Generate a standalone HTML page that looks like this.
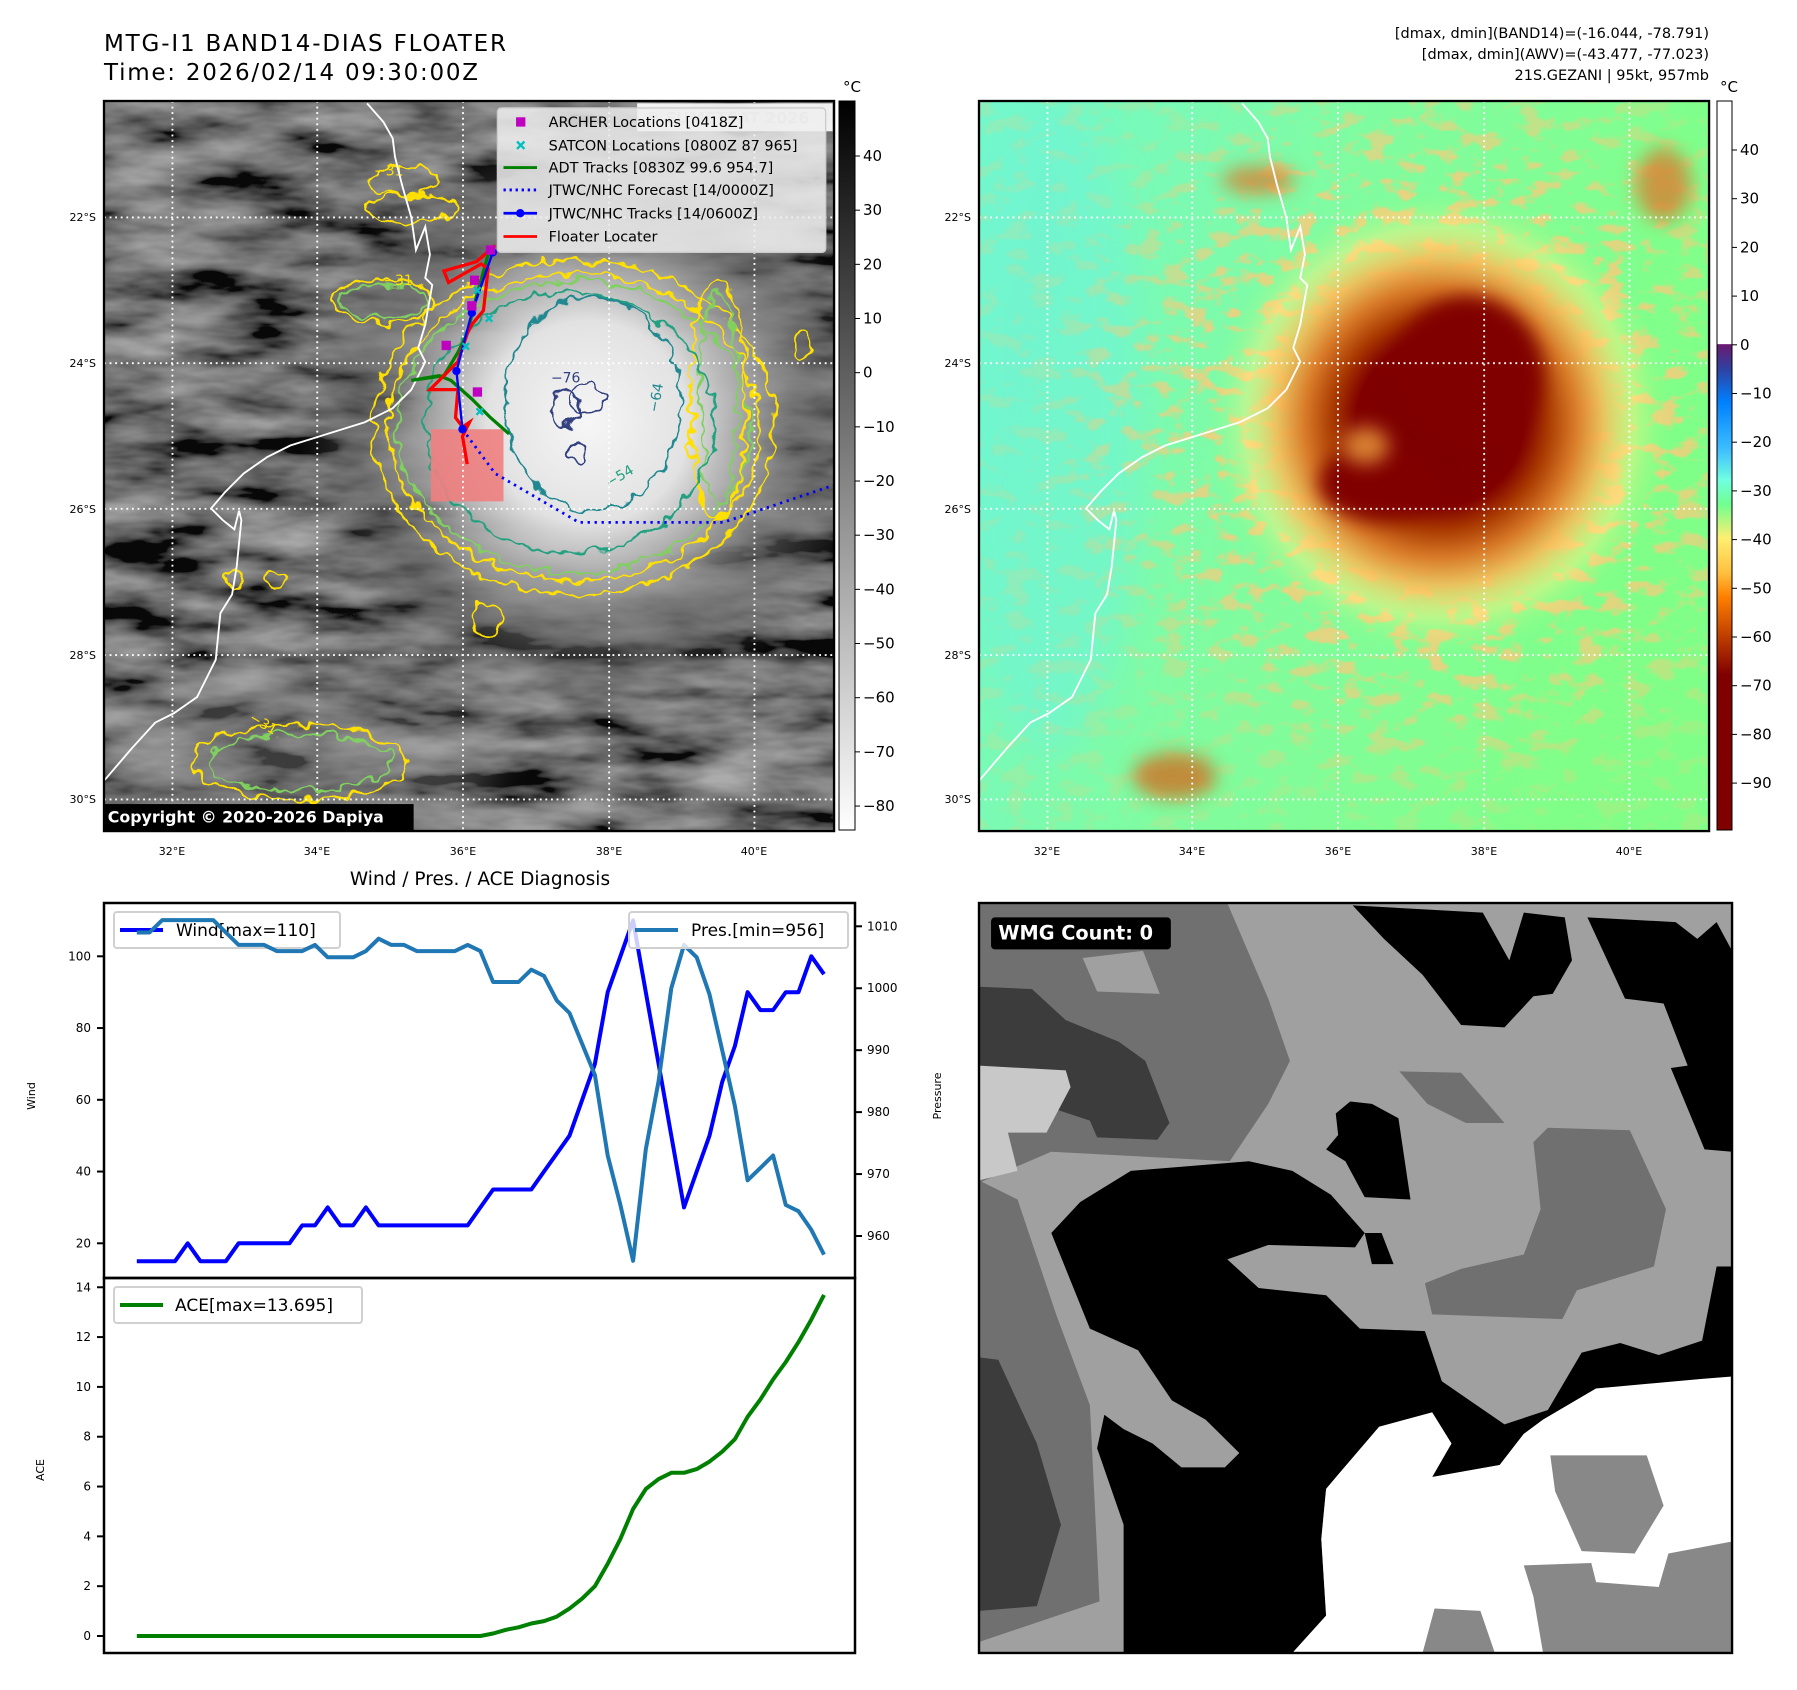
<!DOCTYPE html>
<html><head><meta charset="utf-8"><style>
html,body{margin:0;padding:0;background:#fff;}
svg{display:block;font-family:"DejaVu Sans","Liberation Sans",sans-serif;}
</style></head><body>
<svg id="root" width="1797" height="1690" viewBox="0 0 1797 1690" xmlns="http://www.w3.org/2000/svg">
<defs>
  <filter id="clouds" x="0" y="0" width="1568" height="1568" filterUnits="userSpaceOnUse">
    <feTurbulence type="fractalNoise" baseFrequency="0.004 0.014" numOctaves="4" seed="7"/>
    <feColorMatrix type="matrix" values="1.1 0 0 0 -0.33  1.1 0 0 0 -0.33  1.1 0 0 0 -0.33  0 0 0 0 1"/>
  </filter>
  <filter id="spots" x="0" y="0" width="1568" height="1568" filterUnits="userSpaceOnUse">
    <feTurbulence type="fractalNoise" baseFrequency="0.018 0.03" numOctaves="3" seed="11"/>
    <feColorMatrix type="matrix" values="0 0 0 0 0.95  0 0 0 0 0.6  0 0 0 0 0.2  6 0 0 0 -3.1"/>
  </filter>
  <filter id="wob" x="-200" y="-200" width="2000" height="2000" filterUnits="userSpaceOnUse">
    <feTurbulence type="fractalNoise" baseFrequency="0.03" numOctaves="2" seed="4" result="n"/>
    <feDisplacementMap in="SourceGraphic" in2="n" scale="40" xChannelSelector="R" yChannelSelector="G"/>
  </filter>
  <filter id="blur20" x="-100%" y="-100%" width="300%" height="300%"><feGaussianBlur stdDeviation="20"/></filter>
  <filter id="blur40" x="-100%" y="-100%" width="300%" height="300%"><feGaussianBlur stdDeviation="40"/></filter>
  <radialGradient id="eyeL" cx="1040" cy="690" r="620" gradientUnits="userSpaceOnUse">
    <stop offset="0" stop-color="#f6f6f6"/>
    <stop offset="0.35" stop-color="#e2e2e2"/>
    <stop offset="0.55" stop-color="#a8a8a8" stop-opacity="0.9"/>
    <stop offset="0.8" stop-color="#606060" stop-opacity="0.5"/>
    <stop offset="1" stop-color="#505050" stop-opacity="0"/>
  </radialGradient>
  <radialGradient id="eyeR" cx="990" cy="690" r="500" gradientUnits="userSpaceOnUse">
    <stop offset="0" stop-color="#7a0000"/>
    <stop offset="0.36" stop-color="#800000"/>
    <stop offset="0.46" stop-color="#a83800"/>
    <stop offset="0.58" stop-color="#d87a28"/>
    <stop offset="0.7" stop-color="#f4bb58" stop-opacity="0.9"/>
    <stop offset="0.84" stop-color="#fff080" stop-opacity="0.45"/>
    <stop offset="1" stop-color="#90ff80" stop-opacity="0"/>
  </radialGradient>
  <radialGradient id="spotMaskG" cx="990" cy="690" r="850" gradientUnits="userSpaceOnUse">
    <stop offset="0" stop-color="#fff"/>
    <stop offset="0.5" stop-color="#fff"/>
    <stop offset="1" stop-color="#333"/>
  </radialGradient>
  <mask id="spotMask"><rect width="1568" height="1568" fill="url(#spotMaskG)"/></mask>
  <linearGradient id="bgR" x1="0" y1="0" x2="1" y2="0.3">
    <stop offset="0" stop-color="#72f8cc"/>
    <stop offset="0.5" stop-color="#80fca0"/>
    <stop offset="1" stop-color="#80ff88"/>
  </linearGradient>
  <linearGradient id="cbL" x1="0" y1="0" x2="0" y2="1">
    <stop offset="0" stop-color="#000"/>
    <stop offset="1" stop-color="#fff"/>
  </linearGradient>
  <linearGradient id="cbR" x1="0" y1="101" x2="0" y2="830" gradientUnits="userSpaceOnUse">
    <stop offset="0" stop-color="#fff"/>
    <stop offset="0.333" stop-color="#fff"/>
    <stop offset="0.334" stop-color="#6a1a70"/>
    <stop offset="0.367" stop-color="#3040a0"/>
    <stop offset="0.413" stop-color="#0080ff"/>
    <stop offset="0.48" stop-color="#40c0ff"/>
    <stop offset="0.52" stop-color="#70ffe0"/>
    <stop offset="0.553" stop-color="#70ff90"/>
    <stop offset="0.6" stop-color="#ffef70"/>
    <stop offset="0.647" stop-color="#ffc040"/>
    <stop offset="0.68" stop-color="#ff8000"/>
    <stop offset="0.733" stop-color="#c04000"/>
    <stop offset="0.787" stop-color="#800000"/>
    <stop offset="1" stop-color="#800000"/>
  </linearGradient>
  <clipPath id="mapClip"><rect width="1568" height="1568"/></clipPath>
</defs>

<text x="104" y="51" font-size="23" textLength="402">MTG-I1 BAND14-DIAS FLOATER</text>
<text x="104" y="80" font-size="23" textLength="374">Time: 2026/02/14 09:30:00Z</text>
<g font-size="14.5" text-anchor="end">
  <text x="1709" y="38">[dmax, dmin](BAND14)=(-16.044, -78.791)</text>
  <text x="1709" y="59">[dmax, dmin](AWV)=(-43.477, -77.023)</text>
  <text x="1709" y="80">21S.GEZANI | 95kt, 957mb</text>
</g>

<g transform="translate(104,101) scale(0.4656)">
 <g clip-path="url(#mapClip)">
  <rect width="1568" height="1568" fill="#2a2a2a"/>
  <rect width="1568" height="1568" filter="url(#clouds)" opacity="0.8"/>
  <ellipse cx="420" cy="1420" rx="420" ry="200" fill="#8a8a8a" opacity="0.4" filter="url(#blur40)"/>
  <circle cx="1040" cy="690" r="620" fill="url(#eyeL)"/>
  <g fill="none" stroke-width="5" filter="url(#wob)">
    <ellipse cx="1010" cy="700" rx="400" ry="330" stroke="#ffe000"/>
    <ellipse cx="1010" cy="700" rx="380" ry="312" stroke="#80d060"/>
    <ellipse cx="1010" cy="700" rx="430" ry="360" stroke="#ffe000"/>
    <ellipse cx="1320" cy="640" rx="60" ry="260" stroke="#ffe000"/>
    <ellipse cx="1320" cy="640" rx="40" ry="230" stroke="#80d060"/>
    <ellipse cx="1000" cy="690" rx="310" ry="280" stroke="#20a080"/>
    <ellipse cx="1050" cy="650" rx="190" ry="230" stroke="#208890"/>
    <ellipse cx="1040" cy="640" rx="40" ry="30" stroke="#304080"/>
    <ellipse cx="990" cy="660" rx="30" ry="40" stroke="#304080"/>
    <ellipse cx="1015" cy="755" rx="18" ry="20" stroke="#304080"/>
    <ellipse cx="600" cy="430" rx="110" ry="45" stroke="#ffe000"/>
    <ellipse cx="600" cy="430" rx="95" ry="35" stroke="#80d060"/>
    <ellipse cx="640" cy="170" rx="70" ry="30" stroke="#ffe000"/>
    <ellipse cx="660" cy="230" rx="100" ry="30" stroke="#ffe000"/>
    <ellipse cx="420" cy="1420" rx="230" ry="80" stroke="#ffe000"/>
    <ellipse cx="420" cy="1420" rx="200" ry="60" stroke="#80d060"/>
    <ellipse cx="820" cy="1110" rx="30" ry="40" stroke="#ffe000"/>
    <ellipse cx="280" cy="1025" rx="20" ry="15" stroke="#ffe000"/>
    <ellipse cx="370" cy="1030" rx="25" ry="20" stroke="#ffe000"/>
    <ellipse cx="1500" cy="520" rx="20" ry="30" stroke="#ffe000"/>
  </g>
  <g font-size="30">
    <text x="960" y="605" fill="#304080">−76</text>
    <text x="1190" y="670" fill="#208890" transform="rotate(-80 1190 670)">−64</text>
    <text x="1085" y="830" fill="#20a080" transform="rotate(-30 1085 830)">−54</text>
    <text x="600" y="395" fill="#ffe000">−31</text>
    <text x="580" y="160" fill="#ffe000">−31</text>
    <text x="310" y="1330" fill="#ffe000" transform="rotate(30 310 1330)">−31</text>
  </g>
  <rect x="702" y="705" width="156" height="155" fill="#f08080" opacity="0.9"/>
  <g stroke="#fff" stroke-width="4" stroke-dasharray="4,8">
    <line x1="147" y1="0" x2="147" y2="1568"/><line x1="458" y1="0" x2="458" y2="1568"/>
    <line x1="771" y1="0" x2="771" y2="1568"/><line x1="1085" y1="0" x2="1085" y2="1568"/>
    <line x1="1397" y1="0" x2="1397" y2="1568"/>
    <line x1="0" y1="250" x2="1568" y2="250"/><line x1="0" y1="563" x2="1568" y2="563"/>
    <line x1="0" y1="876" x2="1568" y2="876"/><line x1="0" y1="1190" x2="1568" y2="1190"/>
    <line x1="0" y1="1500" x2="1568" y2="1500"/>
  </g>
  <path id="coastL" d="M565,5 L600,45 L620,80 L625,120 L640,180 L660,250 L670,320 L690,270 L700,330 L690,380 L705,395 L690,480 L675,530 L690,560 L660,620 L620,660 L560,690 L480,715 L400,740 L350,765 L300,800 L260,840 L230,875 L255,900 L280,920 L290,880 L295,900 L285,1000 L275,1060 L250,1100 L240,1200 L215,1250 L200,1280 L150,1315 L110,1335 L60,1390 L0,1460" fill="none" stroke="#fff" stroke-width="4"/>
  <polyline points="770,705 840,800 1020,905 1330,905 1568,825" fill="none" stroke="#0000ff" stroke-width="6" stroke-dasharray="5,10"/>
  <polyline points="825,330 800,420 780,500 760,540 730,590 660,600 720,590 745,600 790,640 830,680 870,715" fill="none" stroke="#008000" stroke-width="7"/>
  <polyline points="840,310 800,345 730,365 740,390 775,370 810,350 825,360 815,450 790,480 780,500 760,560 720,600 700,620 760,620 755,680 770,700 785,690 770,720 780,780" fill="none" stroke="#ff0000" stroke-width="7"/>
  <polyline points="835,325 790,455 757,580 770,705" fill="none" stroke="#0000ff" stroke-width="5"/>
  <g fill="#0000ff"><circle cx="835" cy="325" r="9"/><circle cx="790" cy="455" r="9"/><circle cx="757" cy="580" r="9"/><circle cx="770" cy="705" r="9"/></g>
  <g fill="#c000c0">
    <rect x="820" y="310" width="20" height="20"/><rect x="786" y="375" width="20" height="20"/>
    <rect x="780" y="430" width="20" height="20"/><rect x="725" y="515" width="20" height="20"/>
    <rect x="792" y="615" width="20" height="20"/>
  </g>
  <g fill="none" stroke="#00c0c0" stroke-width="5">
    <path d="M795,400 l14,14 m0,-14 l-14,14 M820,460 l14,14 m0,-14 l-14,14 M770,520 l14,14 m0,-14 l-14,14 M800,660 l14,14 m0,-14 l-14,14"/>
  </g>
  <rect x="1145" y="5" width="420" height="60" fill="#fff" opacity="0.9"/>
  <text x="1160" y="48" font-size="34" font-weight="bold" fill="#d0d0d0">© EUMETSAT 2026</text>
  <g>
    <rect x="845" y="15" width="705" height="310" rx="8" fill="#eeeeee" fill-opacity="0.85" stroke="#cccccc" stroke-width="3"/>
    <rect x="885" y="35" width="20" height="20" fill="#c000c0"/>
    <path d="M887,87 l16,16 m0,-16 l-16,16" stroke="#00c0c0" stroke-width="5"/>
    <line x1="858" y1="143" x2="930" y2="143" stroke="#008000" stroke-width="6"/>
    <line x1="858" y1="191" x2="930" y2="191" stroke="#0000ff" stroke-width="6" stroke-dasharray="5,8"/>
    <line x1="858" y1="241" x2="930" y2="241" stroke="#0000ff" stroke-width="6"/><circle cx="894" cy="241" r="9" fill="#0000ff"/>
    <line x1="858" y1="291" x2="930" y2="291" stroke="#ff0000" stroke-width="6"/>
    <g font-size="31" fill="#000">
      <text x="955" y="56">ARCHER Locations [0418Z]</text>
      <text x="955" y="106">SATCON Locations [0800Z 87 965]</text>
      <text x="955" y="154">ADT Tracks [0830Z 99.6 954.7]</text>
      <text x="955" y="202">JTWC/NHC Forecast [14/0000Z]</text>
      <text x="955" y="252">JTWC/NHC Tracks [14/0600Z]</text>
      <text x="955" y="302">Floater Locater</text>
    </g>
  </g>
  <rect x="0" y="1510" width="665" height="58" fill="#000"/>
  <text x="8" y="1550" font-size="34" font-weight="bold" fill="#fff">Copyright © 2020-2026 Dapiya</text>
 </g>
 <rect width="1568" height="1568" fill="none" stroke="#000" stroke-width="5"/>
</g>

<g transform="translate(979,101) scale(0.4656)">
 <g clip-path="url(#mapClip)">
  <rect width="1568" height="1568" fill="url(#bgR)"/>
  <ellipse cx="150" cy="700" rx="200" ry="700" fill="#70f4d8" opacity="0.6" filter="url(#blur40)"/>
  <rect width="1568" height="1568" filter="url(#spots)" mask="url(#spotMask)"/>
  <circle cx="990" cy="690" r="500" fill="url(#eyeR)"/>
  <ellipse cx="1050" cy="590" rx="160" ry="170" fill="#800000" filter="url(#blur20)"/>
  <ellipse cx="860" cy="820" rx="130" ry="80" fill="#800000" filter="url(#blur20)"/>
  <ellipse cx="830" cy="740" rx="50" ry="40" fill="#d88030" filter="url(#blur20)"/>
  <ellipse cx="420" cy="1450" rx="90" ry="50" fill="#d07020" opacity="0.8" filter="url(#blur20)"/>
  <ellipse cx="1470" cy="180" rx="60" ry="80" fill="#d88030" opacity="0.8" filter="url(#blur20)"/>
  <ellipse cx="600" cy="170" rx="80" ry="30" fill="#d88030" opacity="0.8" filter="url(#blur20)"/>
  <g stroke="#fff" stroke-width="4" stroke-dasharray="4,8">
    <line x1="147" y1="0" x2="147" y2="1568"/><line x1="458" y1="0" x2="458" y2="1568"/>
    <line x1="771" y1="0" x2="771" y2="1568"/><line x1="1085" y1="0" x2="1085" y2="1568"/>
    <line x1="1397" y1="0" x2="1397" y2="1568"/>
    <line x1="0" y1="250" x2="1568" y2="250"/><line x1="0" y1="563" x2="1568" y2="563"/>
    <line x1="0" y1="876" x2="1568" y2="876"/><line x1="0" y1="1190" x2="1568" y2="1190"/>
    <line x1="0" y1="1500" x2="1568" y2="1500"/>
  </g>
  <use href="#coastL"/>
 </g>
 <rect width="1568" height="1568" fill="none" stroke="#000" stroke-width="5"/>
</g>

<g font-size="11">
  <g text-anchor="end">
    <text x="96" y="221">22°S</text><text x="96" y="367">24°S</text><text x="96" y="513">26°S</text><text x="96" y="659">28°S</text><text x="96" y="803">30°S</text>
    <text x="971" y="221">22°S</text><text x="971" y="367">24°S</text><text x="971" y="513">26°S</text><text x="971" y="659">28°S</text><text x="971" y="803">30°S</text>
  </g>
  <g text-anchor="middle">
    <text x="172" y="855">32°E</text><text x="317" y="855">34°E</text><text x="463" y="855">36°E</text><text x="609" y="855">38°E</text><text x="754" y="855">40°E</text>
    <text x="1047" y="855">32°E</text><text x="1192" y="855">34°E</text><text x="1338" y="855">36°E</text><text x="1484" y="855">38°E</text><text x="1629" y="855">40°E</text>
  </g>
</g>

<g>
  <rect x="839" y="101" width="16" height="729" fill="url(#cbL)" stroke="#000" stroke-width="1"/>
  <text x="852" y="92" font-size="15" text-anchor="middle">°C</text>
  <g font-size="15" id="cbLticks"></g>
</g>
<g>
  <rect x="1717" y="101" width="15" height="729" fill="url(#cbR)" stroke="#000" stroke-width="1"/>
  <text x="1729" y="92" font-size="15" text-anchor="middle">°C</text>
  <g font-size="15" id="cbRticks"></g>
</g>

<text x="480" y="885" font-size="18.5" text-anchor="middle">Wind / Pres. / ACE Diagnosis</text>
<g id="chart"></g>

<g transform="translate(979,903) scale(0.4821,0.4783)">
  <rect width="1562" height="1568" fill="#a0a0a0"/>
  <path d="M0,0 L515,0 L600,200 L645,330 L600,420 L520,540 L150,520 L0,585 Z" fill="#707070"/>
  <path d="M215,115 L340,100 L375,190 L245,185 Z" fill="#a0a0a0"/>
  <path d="M0,175 L110,180 L180,245 L290,290 L345,330 L395,460 L370,495 L245,490 L230,455 L125,420 L60,480 L0,470 Z" fill="#3c3c3c"/>
  <path d="M0,340 L180,350 L190,385 L140,480 L60,480 L80,560 L0,580 Z" fill="#c8c8c8"/>
  <path d="M0,580 L80,620 L160,860 L230,1050 L250,1460 L0,1545 Z" fill="#707070"/>
  <path d="M0,950 L40,955 L120,1130 L170,1300 L120,1470 L0,1480 Z" fill="#3c3c3c"/>
  <path d="M775,5 L1045,20 L1100,120 L1130,20 L1215,30 L1230,120 L1190,190 L1150,195 L1090,260 L1000,255 L920,150 L840,75 Z" fill="#000"/>
  <path d="M1262,30 L1445,40 L1490,75 L1530,40 L1562,100 L1562,520 L1505,515 L1435,345 L1470,340 L1420,210 L1340,200 Z" fill="#000"/>
  <path d="M872,352 L1000,355 L1090,460 L1010,460 L930,420 Z" fill="#707070"/>
  <path d="M1150,500 L1180,470 L1350,475 L1425,640 L1400,760 L1240,810 L1210,870 L940,860 L925,795 L1000,765 L1130,735 L1165,640 Z" fill="#707070"/>
  <path d="M740,440 L770,415 L815,420 L870,450 L895,620 L800,615 L760,540 L720,515 L745,485 Z" fill="#000"/>
  <path d="M800,690 L835,690 L860,755 L815,755 Z" fill="#000"/>
  <path d="M150,690 L210,625 L315,560 L560,540 L650,560 L730,610 L800,690 L780,720 L600,715 L515,745 L580,805 L720,820 L790,890 L925,895 L960,1000 L1090,1090 L1180,1060 L1250,940 L1330,920 L1410,945 L1500,915 L1530,760 L1562,760 L1562,995 L1280,1015 L1170,1080 L1130,1110 L1080,1175 L940,1200 L980,1130 L940,1065 L830,1095 L745,1195 L720,1225 L710,1330 L720,1490 L650,1568 L300,1568 L300,1300 L245,1140 L260,1070 L300,1100 L360,1130 L420,1180 L510,1180 L540,1150 L470,1080 L400,1040 L330,935 L230,890 Z" fill="#000"/>
  <path d="M745,1195 L830,1095 L940,1065 L980,1130 L940,1200 L1080,1175 L1130,1110 L1170,1080 L1280,1015 L1500,995 L1562,990 L1562,1568 L650,1568 L720,1490 L710,1330 L720,1225 Z" fill="#fff"/>
  <path d="M1185,1155 L1385,1155 L1420,1260 L1360,1360 L1250,1355 L1195,1230 Z" fill="#888"/>
  <path d="M1130,1385 L1270,1380 L1280,1420 L1410,1430 L1430,1360 L1562,1335 L1562,1568 L1170,1568 L1150,1450 Z" fill="#888"/>
  <path d="M920,1568 L945,1475 L1040,1480 L1070,1568 Z" fill="#888"/>
  <rect x="25" y="30" width="373" height="67" rx="8" fill="#000"/>
  <text x="40" y="76" font-size="40" font-weight="bold" fill="#fff">WMG Count: 0</text>
  <rect width="1562" height="1568" fill="none" stroke="#000" stroke-width="5"/>
</g>

<script>
const windValues = [15,15,15,15,20,15,15,15,20,20,20,20,20,25,25,30,25,25,30,25,25,25,25,25,25,25,25,30,35,35,35,35,40,45,50,60,70,90,100,110,90,70,50,30,40,50,65,75,90,85,85,90,90,100,95];
const presValues = [1009,1009,1011,1011,1011,1011,1011,1009,1007,1007,1007,1006,1006,1006,1007,1005,1005,1005,1006,1008,1007,1007,1006,1006,1006,1006,1007,1006,1001,1001,1001,1003,1002,998,996,991,986,973,965,956,974,985,1000,1007,1005,999,990,981,969,971,973,965,964,961,957];
const aceValues = [0,0,0,0,0,0,0,0,0,0,0,0,0,0,0,0,0,0,0,0,0,0,0,0,0,0,0,0,0.1,0.25,0.35,0.5,0.6,0.78,1.1,1.5,2.0,2.9,3.9,5.1,5.9,6.3,6.55,6.55,6.7,7.0,7.4,7.9,8.8,9.5,10.3,11.0,11.8,12.7,13.695];
const windTicks = [20,40,60,80,100];
const presTicks = [960,970,980,990,1000,1010];
const aceTicks = [0,2,4,6,8,10,12,14];
const cbLeftTicks = [40,30,20,10,0,-10,-20,-30,-40,-50,-60,-70,-80];
const cbRightTicks = [40,30,20,10,0,-10,-20,-30,-40,-50,-60,-70,-80,-90];

const NS = 'http://www.w3.org/2000/svg';
function mk(tag, attrs, parent){
  const e = document.createElementNS(NS, tag);
  for (const k in attrs) e.setAttribute(k, attrs[k]);
  parent.appendChild(e);
  return e;
}
const xScale = i => 136.8 + i * (824 - 136.8) / (windValues.length - 1);
const yWind = v => 956.3 + (100 - v) * 3.5875;
const yPres = p => 926.3 + (1010 - p) * 6.194;
const yAce = a => 1636 - a * 24.91;
const yCbL = v => 156 + (40 - v) * 5.417;
const yCbR = v => 150 + (40 - v) * 4.87;
const fmt = v => v < 0 ? '\u2212' + Math.abs(v) : String(v);

const cbl = document.getElementById('cbLticks');
cbLeftTicks.forEach(v => {
  const y = yCbL(v);
  const t = mk('line', {x1:855, y1:y, x2:860, y2:y, stroke:'#000', 'stroke-width':1}, cbl);
  
  
  const l = mk('text', {x:863, y:y+5}, cbl);
  l.textContent = fmt(v);
  
  
});
const cbr = document.getElementById('cbRticks');
cbRightTicks.forEach(v => {
  const y = yCbR(v);
  const t = mk('line', {x1:1732, y1:y, x2:1737, y2:y, stroke:'#000', 'stroke-width':1}, cbr);
  
  
  const l = mk('text', {x:1740, y:y+5}, cbr);
  l.textContent = fmt(v);
  
  
});

const g = document.getElementById('chart');
const f1 = mk('rect', {x:104, y:903, width:751, height:375, fill:'#fff', stroke:'none'}, g);


const f2 = mk('rect', {x:104, y:1278, width:751, height:375, fill:'#fff', stroke:'none'}, g);



windTicks.forEach(v => {
  const y = yWind(v);
  const t = mk('line', {x1:97, y1:y, x2:104, y2:y, stroke:'#000', 'stroke-width':2}, g);
  
  
  const l = mk('text', {x:91, y:y+4, 'font-size':12, 'text-anchor':'end'}, g);
  l.textContent = v;
  
  
});
presTicks.forEach(v => {
  const y = yPres(v);
  const t = mk('line', {x1:855, y1:y, x2:862, y2:y, stroke:'#000', 'stroke-width':2}, g);
  
  
  const l = mk('text', {x:867, y:y+4, 'font-size':12}, g);
  l.textContent = v;
  
  
});
aceTicks.forEach(v => {
  const y = yAce(v);
  const t = mk('line', {x1:97, y1:y, x2:104, y2:y, stroke:'#000', 'stroke-width':2}, g);
  
  
  const l = mk('text', {x:91, y:y+4, 'font-size':12, 'text-anchor':'end'}, g);
  l.textContent = v;
  
  
});
const yl1 = mk('text', {x:0, y:0, 'font-size':11, 'text-anchor':'middle', transform:'translate(35,1096) rotate(-90)'}, g);
yl1.textContent = 'Wind';


const yl2 = mk('text', {x:0, y:0, 'font-size':11, 'text-anchor':'middle', transform:'translate(941,1096) rotate(-90)'}, g);
yl2.textContent = 'Pressure';


const yl3 = mk('text', {x:0, y:0, 'font-size':11, 'text-anchor':'middle', transform:'translate(44,1470) rotate(-90)'}, g);
yl3.textContent = 'ACE';



function pts(arr, yf){ return arr.map((v,i) => xScale(i).toFixed(1) + ',' + yf(v).toFixed(1)).join(' '); }

const wl = mk('polyline', {points: pts(windValues, yWind), fill:'none', stroke:'#0000ff', 'stroke-width':4, 'stroke-linejoin':'round'}, g);



const wlg = mk('g', {}, g);


mk('rect', {x:114, y:912, width:226, height:36, rx:3, fill:'#fff', 'fill-opacity':0.8, stroke:'#d0d0d0', 'stroke-width':2}, wlg);
mk('line', {x1:120, y1:930, x2:163, y2:930, stroke:'#0000ff', 'stroke-width':4}, wlg);
const wlt = mk('text', {x:176, y:936, 'font-size':17}, wlg);
wlt.textContent = 'Wind[max=' + Math.max(...windValues) + ']';

const pl = mk('polyline', {points: pts(presValues, yPres), fill:'none', stroke:'#1f77b4', 'stroke-width':4, 'stroke-linejoin':'round'}, g);



const plg = mk('g', {}, g);


mk('rect', {x:629, y:912, width:219, height:36, rx:3, fill:'#fff', 'fill-opacity':0.8, stroke:'#d0d0d0', 'stroke-width':2}, plg);
mk('line', {x1:635, y1:930, x2:678, y2:930, stroke:'#1f77b4', 'stroke-width':4}, plg);
const plt = mk('text', {x:691, y:936, 'font-size':17}, plg);
plt.textContent = 'Pres.[min=' + Math.min(...presValues) + ']';

const al = mk('polyline', {points: pts(aceValues, yAce), fill:'none', stroke:'#008000', 'stroke-width':4, 'stroke-linejoin':'round'}, g);



const alg = mk('g', {}, g);


mk('rect', {x:114, y:1287, width:248, height:36, rx:3, fill:'#fff', 'fill-opacity':0.8, stroke:'#d0d0d0', 'stroke-width':2}, alg);
mk('line', {x1:120, y1:1305, x2:163, y2:1305, stroke:'#008000', 'stroke-width':4}, alg);
const alt = mk('text', {x:175, y:1311, 'font-size':17}, alg);
alt.textContent = 'ACE[max=' + Math.max(...aceValues) + ']';

const fr1 = mk('rect', {x:104, y:903, width:751, height:375, fill:'none', stroke:'#000', 'stroke-width':2.5}, g);


const fr2 = mk('rect', {x:104, y:1278, width:751, height:375, fill:'none', stroke:'#000', 'stroke-width':2.5}, g);


</script>
</svg>
</body></html>
